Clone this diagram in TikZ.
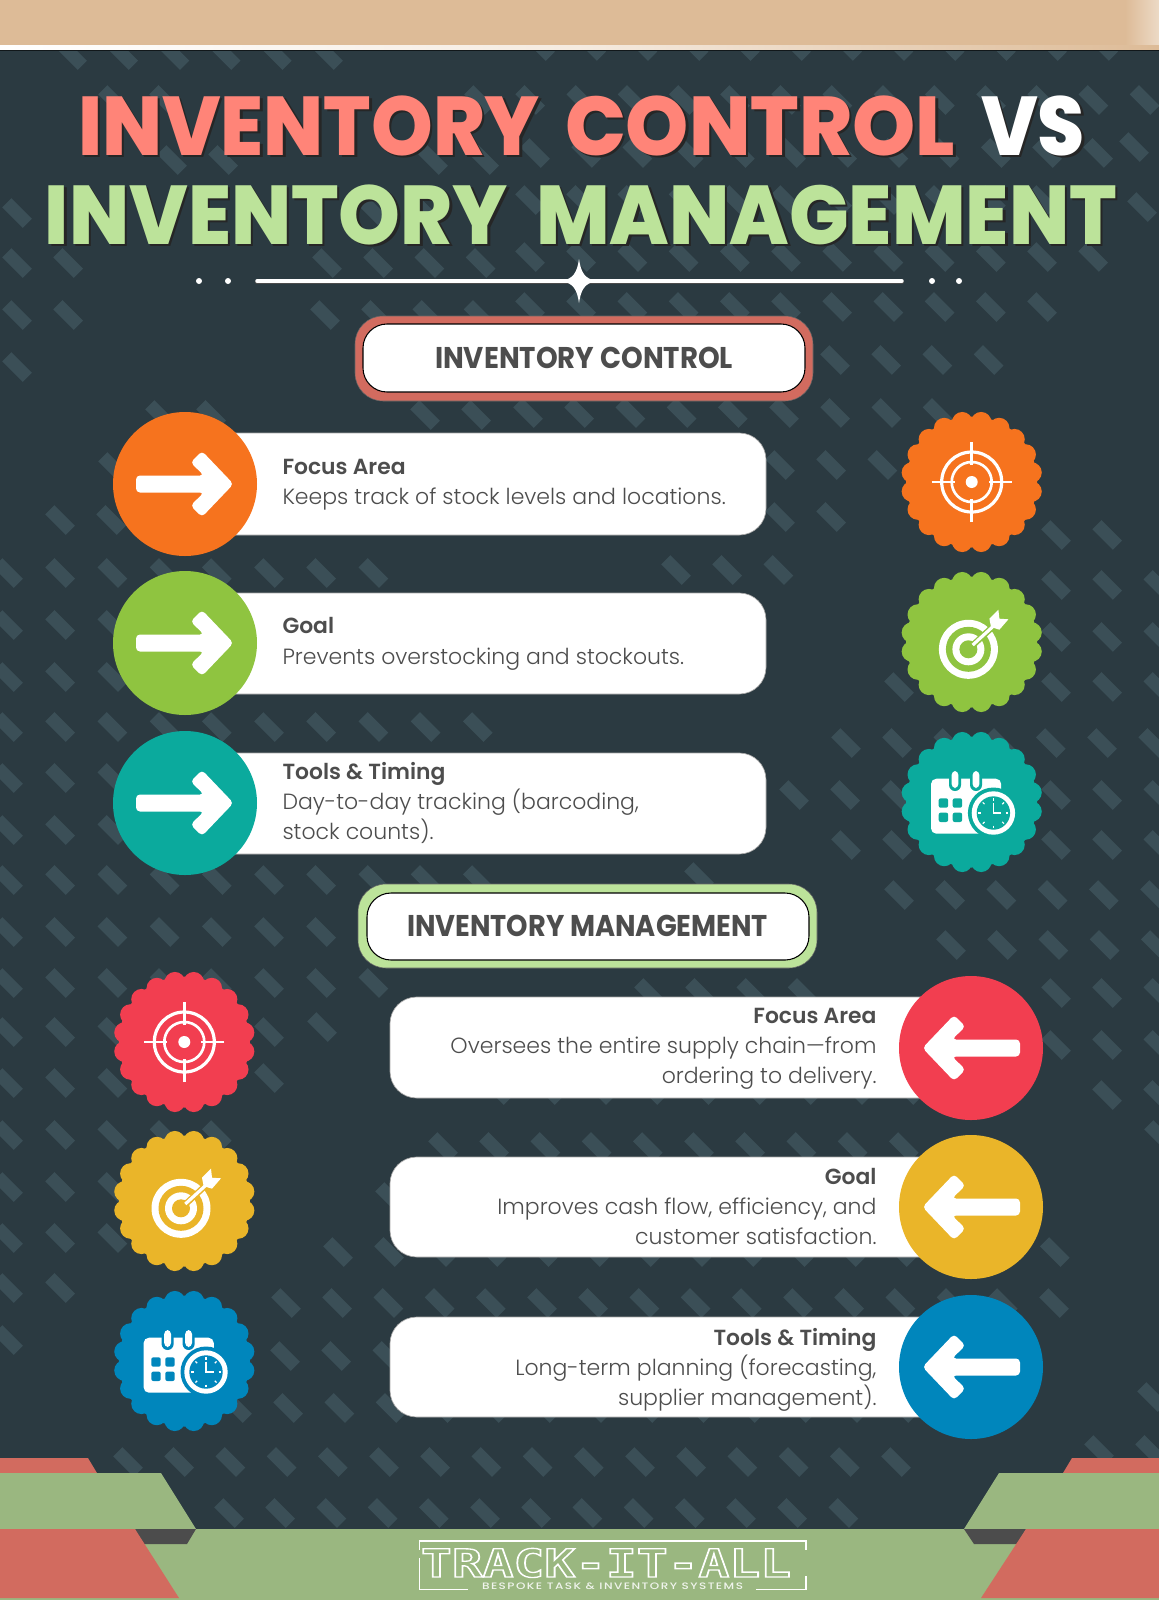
\documentclass[tikz,border=0pt]{standalone}
\usepackage{fontspec}
\usepackage{graphicx}
\setmainfont{Poppins}
\newfontfamily\ttlfont{Poppins ExtraBold}
\newfontfamily\hdrfont{Poppins Bold}
\newfontfamily\headfont{Poppins SemiBold}
\newfontfamily\bodyfont{Poppins Light}
\newfontfamily\tagfont{Poppins Medium}
\newfontfamily\logofont{DejaVu Sans Mono Bold}
\newdimen\ppx \ppx=0.75pt
\definecolor{bgc}{HTML}{2B3A41}
\definecolor{tilec}{HTML}{3B4F57}
\definecolor{tanc}{HTML}{DDBB97}
\definecolor{salm}{HTML}{FF8478}
\definecolor{lgreen}{HTML}{BCE39A}
\definecolor{fred}{HTML}{D26B5F}
\definecolor{fgreen}{HTML}{9AB780}
\definecolor{fdark}{HTML}{4C4C4C}
\definecolor{txt}{HTML}{4D4D4D}
\definecolor{corange}{HTML}{F6731E}
\definecolor{cgreen}{HTML}{8FC440}
\definecolor{cteal}{HTML}{0BAA9D}
\definecolor{cred}{HTML}{F23E50}
\definecolor{cyellow}{HTML}{EAB529}
\definecolor{cblue}{HTML}{0086BC}
\tikzset{
  txtnode/.style={inner sep=0pt,outer sep=0pt,text=txt,font=\fontsize{16.5}{20}\bodyfont},
  headnode/.style={inner sep=0pt,outer sep=0pt,text=txt,font=\fontsize{16.4}{20}\headfont},
  barbox/.style={fill=white,draw=gray!70,line width=0.5pt,rounded corners=20pt},
  ttl/.style={inner sep=0pt,outer sep=0pt,anchor=base west},
}
\newcommand{\fitword}[3]{\resizebox{#1\ppx}{\height}{\fontsize{#2}{#2}\ttlfont #3}}
\newcommand{\tword}[6]{% name, x, baseline, width, colour, text
  \node[ttl,text=black!85] at (#2+2.5,#3+2.5) {\fitword{#4}{62.5}{#6}};
  \node[ttl,text=#5] (#1) at (#2,#3) {\fitword{#4}{62.5}{#6}};
}
\newcommand{\badge}[3]{% x,y,colour
  \fill[#3] (#1,#2) circle (65.5);
  \foreach \a in {9,27,...,351} {\fill[#3] ({#1+60.5*cos(\a)},{#2+60.5*sin(\a)}) circle (10.3);}
}
\newcommand{\arrowicon}[2]{%
  \begin{scope}[shift={(#1,#2)}]
  \fill[white,rounded corners=3] (-49,-8.5) -- (19,-8.5) -- (5.5,-21.5) -- (17,-33) -- (48.5,0) -- (17,33) -- (5.5,21.5) -- (19,8.5) -- (-49,8.5) -- cycle;
  \end{scope}
}
\newcommand{\crosshair}[2]{%
  \begin{scope}[shift={(#1,#2)}]
  \draw[white,line width=2.4pt] (0,0) circle (30);
  \draw[white,line width=2pt] (0,0) circle (20);
  \fill[white] (0,0) circle (6);
  \draw[white,line width=2pt] (-40,0) -- (-17,0) (40,0) -- (17,0) (0,-40) -- (0,-17) (0,40) -- (0,17);
  \end{scope}
}
\newcommand{\bullseye}[3]{%
  \begin{scope}[shift={(#1,#2)}]
  \fill[white] (-3.3,7.3) circle (29.5);
  \fill[#3] (-3.3,7.3) circle (22.5);
  \fill[white] (-3.3,7.3) circle (16);
  \fill[#3] (-3.3,7.3) circle (9);
  \draw[#3,line width=4.6pt] (-3.3,7.3) -- (24,-18);
  \draw[white,line width=2.4pt] (1,3) -- (24,-18);
  \fill[white] (17.7,-23.3) -- (26.7,-32.3) -- (27.7,-23.3) -- (36.7,-22.7) -- (27.7,-12.3) -- (19.3,-15) -- cycle;
  \end{scope}
}
\newcommand{\calicon}[3]{%
  \begin{scope}[shift={(#1,#2)}]
  \fill[white,rounded corners=4] (-40.7,-23.3) rectangle (29.5,31.7);
  \foreach \x in {-16.7,4.3} {
    \fill[#3,rounded corners=4.5] (\x-6,-32) rectangle (\x+6,-11);
    \fill[white,rounded corners=3] (\x-3.4,-31) rectangle (\x+3.4,-14);
  }
  \foreach \x in {-28.3,-14.3} \foreach \y in {1,15.3} {
    \fill[#3,rounded corners=1.5] (\x-4.7,\y-4.7) rectangle (\x+4.7,\y+4.7);
  }
  \fill[#3] (21.7,11) circle (25.5);
  \fill[white] (21.7,11) circle (21.7);
  \fill[#3] (21.7,11) circle (16.7);
  \foreach \a in {0,45,...,315} {\draw[white,line width=0.9pt] ({21.7+12.5*cos(\a)},{11+12.5*sin(\a)}) -- ({21.7+15*cos(\a)},{11+15*sin(\a)});}
  \draw[white,line width=1.1pt] (21.7,0.5) -- (21.7,11) -- (29.5,11);
  \end{scope}
}
\begin{document}
\begin{tikzpicture}[x=0.75pt,y=-0.75pt]
\useasboundingbox (0,0) rectangle (1159,1600);
\begin{scope}
\clip (0,0) rectangle (1159,1600);
\fill[bgc] (0,0) rectangle (1159,1600);
\foreach \yy/\aa/\nn in {
 55/72/6, 46/540/12,
 100/113/2, 100/479/14,
 160/172/2, 160/433/2, 153/535/12, 147/1134/1,
 213/17/1, 210/372/2, 200/530/11, 207/1142/1,
 263/17/2, 263/327/4, 257/530/12,
 315/17/2, 315/325/4, 307/530/11,
 367/17/1, 360/835/4,
 415/160/2, 415/425/2, 413/528/9,
 467/113/1, 465/780/3,
 520/60/2, 517/780/2, 535/1056/2,
 573/8/8, 570/676/3, 585/1056/3,
 625/8/3, 637/1056/3,
 677/8/3, 687/899/1, 687/1056/3,
 727/8/10, 743/846/7,
 778/8/3, 795/794/3, 795/1056/3,
 830/8/3, 845/846/2, 845/1056/3,
 880/8/10, 877/699/1, 895/899/7,
 932/8/7, 945/951/5,
 983/8/8, 993/649/4, 993/1056/3,
 1032/8/3, 1032/269/1, 1027/322/1, 1045/1056/3,
 1083/8/3, 1078/269/1, 1090/498/9, 1095/1107/2,
 1135/8/5, 1147/443/10, 1135/1159/1,
 1187/8/3, 1197/390/1,
 1238/8/3, 1252/338/15,
 1288/8/2, 1303/286/16,
 1340/8/1, 1356/285/3,
 1408/237/14, 1397/1152/1,
 1462/128/16, 1450/1099/2,
 1513/229/13}
{
  \pgfmathsetmacro{\st}{\aa==8?52.2:51.2}
  \foreach \kk in {1,...,\nn} {
    \fill[tilec] (\aa+\kk*\st-\st+14.85,\yy+5.65) -- (\aa+\kk*\st-\st+5.65,\yy+14.85) -- (\aa+\kk*\st-\st-14.85,\yy-5.65) -- (\aa+\kk*\st-\st-5.65,\yy-14.85) -- cycle;
  }
}
\fill[tanc] (0,0) rectangle (1159,46);
\shade[left color=tanc,right color=tanc!55!white] (1125,0) rectangle (1159,46);
\shade[left color=white,right color=tanc,middle color=white!70!tanc] (0,45) rectangle (1159,49.5);
\fill[black!60!bgc] (0,49.5) rectangle (1159,50.5);
\fill[fred] (0,1458) -- (88,1458) -- (97,1473) -- (0,1473) -- cycle;
\fill[fred] (1072,1458) -- (1159,1458) -- (1159,1473) -- (1063,1473) -- cycle;
\fill[fgreen] (0,1473) -- (161,1473) -- (196,1529) -- (0,1529) -- cycle;
\fill[fgreen] (999,1473) -- (1159,1473) -- (1159,1529) -- (964,1529) -- cycle;
\fill[fgreen] (0,1529) rectangle (1159,1600);
\fill[fdark] (135,1529) -- (196,1529) -- (187,1544) -- (143,1544) -- cycle;
\fill[fdark] (964,1529) -- (1026,1529) -- (1017,1544) -- (974,1544) -- cycle;
\fill[fred] (0,1529) -- (135,1529) -- (179,1598) -- (0,1598) -- cycle;
\fill[fred] (1026,1529) -- (1159,1529) -- (1159,1598) -- (981,1598) -- cycle;
\end{scope}
\tword{t1}{78}{155}{462}{salm}{INVENTORY}
\tword{t2}{565}{155}{390}{salm}{CONTROL}
\tword{t3}{981}{155}{104}{white}{VS}
\tword{t4}{45}{244}{463}{lgreen}{INVENTORY}
\tword{t5}{536}{244}{581}{lgreen}{MANAGEMENT}
\draw[black!70,line width=3pt,line cap=round] (257,282) -- (902,282);
\draw[white,line width=2.6pt,line cap=round] (257,281) -- (902,281);
\fill[white] (579,259) .. controls (581,273) and (585,279) .. (597,281) .. controls (585,283) and (581,289) .. (579,303) .. controls (577,289) and (573,283) .. (561,281) .. controls (573,279) and (577,273) .. (579,259) -- cycle;
\foreach \x in {199,228,932,959} {\fill[white] (\x,281) circle (3);}
\fill[fred,draw=gray!80!black,line width=0.4pt,rounded corners=21pt] (355,316) rectangle (813,401);
\draw[fill=white,draw=black,line width=0.8pt,rounded corners=18pt] (363,324) rectangle (805,392);
\node[ttl,text=txt] (hc) at (435,368) {\resizebox{298\ppx}{\height}{\fontsize{22.5}{22.5}\hdrfont INVENTORY CONTROL}};
\fill[lgreen,draw=gray!80!black,line width=0.4pt,rounded corners=21pt] (358,884) rectangle (817,968);
\draw[fill=white,draw=black,line width=0.8pt,rounded corners=18pt] (367,893) rectangle (809,960);
\node[ttl,text=txt] (hm) at (407,936) {\resizebox{361\ppx}{\height}{\fontsize{22.5}{22.5}\hdrfont INVENTORY MANAGEMENT}};
\draw[barbox] (185,433) rectangle (766,535);
\draw[barbox] (185,593) rectangle (766,694);
\draw[barbox] (185,753) rectangle (766,854);
\fill[corange] (185,484) circle (72);
\fill[cgreen] (185,643) circle (72);
\fill[cteal] (185,803) circle (72);
\arrowicon{185}{484}
\arrowicon{185}{643}
\arrowicon{185}{803}
\node[headnode,anchor=base west] (a1) at (282.5,474) {Focus Area};
\node[txtnode,anchor=base west] (a2) at (282.5,504) {Keeps track of stock levels and locations.};
\node[headnode,anchor=base west] (b1) at (282.5,633) {Goal};
\node[txtnode,anchor=base west] (b2) at (282.5,664) {Prevents overstocking and stockouts.};
\node[headnode,anchor=base west] (c1) at (282.5,779) {Tools \& Timing};
\node[txtnode,anchor=base west] (c2) at (282.5,809) {Day-to-day tracking (barcoding,};
\node[txtnode,anchor=base west] (c3) at (282.5,839) {stock counts).};
\badge{971.7}{482}{corange}
\badge{971.7}{642}{cgreen}
\badge{971.7}{802}{cteal}
\crosshair{971.7}{482}
\bullseye{971.7}{642}{cgreen}
\calicon{971.7}{802}{cteal}
\draw[barbox] (390,997) rectangle (971,1098);
\draw[barbox] (390,1157) rectangle (971,1257);
\draw[barbox] (390,1317) rectangle (971,1417);
\fill[cred] (971,1048) circle (72);
\fill[cyellow] (971,1207) circle (72);
\fill[cblue] (971,1367) circle (72);
\begin{scope}[xscale=-1,shift={(-1942,0)}]
\arrowicon{971}{1048}
\arrowicon{971}{1207}
\arrowicon{971}{1367}
\end{scope}
\node[headnode,anchor=base east] (d1) at (876.5,1023) {Focus Area};
\node[txtnode,anchor=base east] (d2) at (876.5,1053) {Oversees the entire supply chain—from};
\node[txtnode,anchor=base east] (d3) at (876.5,1083) {ordering to delivery.};
\node[headnode,anchor=base east] (e1) at (876.5,1184) {Goal};
\node[txtnode,anchor=base east] (e2) at (876.5,1214) {Improves cash flow, efficiency, and};
\node[txtnode,anchor=base east] (e3) at (876.5,1244) {customer satisfaction.};
\node[headnode,anchor=base east] (f1) at (876.5,1345) {Tools \& Timing};
\node[txtnode,anchor=base east] (f2) at (876.5,1375) {Long-term planning (forecasting,};
\node[txtnode,anchor=base east] (f3) at (876.5,1405) {supplier management).};
\badge{184.3}{1042}{cred}
\badge{184.3}{1201}{cyellow}
\badge{184.3}{1361}{cblue}
\crosshair{184.3}{1042}
\bullseye{184.3}{1201}{cyellow}
\calicon{184.3}{1361}{cblue}
\draw[white,line width=1.2pt] (419.5,1550) -- (419.5,1541) -- (806,1541) -- (806,1550);
\draw[white,line width=1.2pt] (419.5,1558) -- (419.5,1589.5) -- (468,1589.5);
\draw[white,line width=1.2pt] (756,1589.5) -- (806,1589.5) -- (806,1576);
\node[ttl,text=fgreen] (logo) at (421,1577) {\resizebox{370\ppx}{\height}{\fontsize{29}{29}\logofont\special{pdf:code q 1 Tr 1 w 1 1 1 RG}TRACK-IT-ALL\special{pdf:code Q}}};
\node[ttl,text=white!85!fgreen] (tag) at (482,1589) {\resizebox{261\ppx}{\height}{\fontsize{7}{7}\tagfont\addfontfeatures{LetterSpace=12}BESPOKE TASK \& INVENTORY SYSTEMS}};
\end{tikzpicture}
\end{document}
